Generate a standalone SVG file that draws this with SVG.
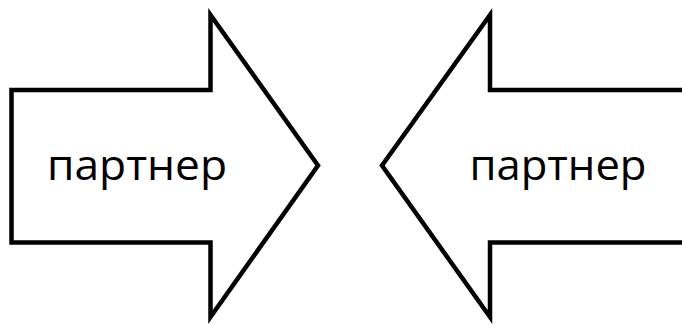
<svg xmlns="http://www.w3.org/2000/svg" width="682" height="325" viewBox="0 0 682 325">
<style>
.arrow{fill:#ffffff;stroke:#000000;stroke-width:4.5;stroke-linejoin:miter;stroke-miterlimit:10}
.label{font-family:"Open Sans","Liberation Sans",Arial,sans-serif;font-size:42px;fill:#000000;text-anchor:middle}
</style>
<rect width="682" height="325" fill="#ffffff"/>
<g id="arrow-left-partner">
<polygon class="arrow" points="11.5,90 210.5,90 210.5,15 318,165.5 210.5,317 210.5,242.5 11.5,242.5"/>
<text class="label" x="137" y="180" textLength="180" lengthAdjust="spacingAndGlyphs">партнер</text>
</g>
<g id="arrow-right-partner">
<polygon class="arrow" points="690,90 490,90 490,15 382,165.5 490,317 490,242.5 690,242.5"/>
<text class="label" x="558" y="180" textLength="177" lengthAdjust="spacingAndGlyphs">партнер</text>
</g>
<g id="connectors"></g>
</svg>
